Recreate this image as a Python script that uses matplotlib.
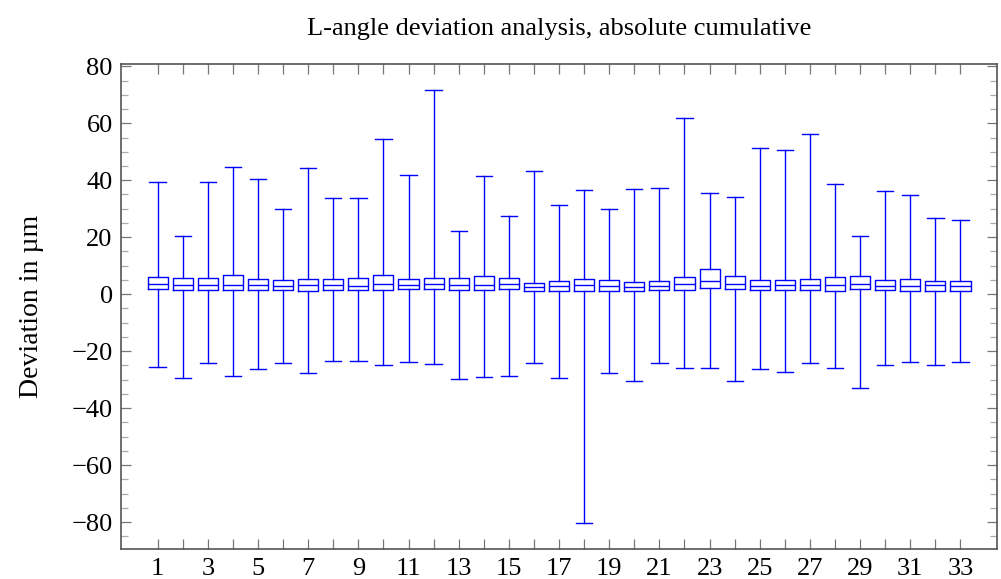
import matplotlib
matplotlib.use("Agg")
import matplotlib.pyplot as plt
from matplotlib.ticker import MultipleLocator

# one box per measurement position
positions = list(range(1, 34))
whisker_hi = [39.5, 20.6, 39.5, 44.6, 40.3, 30.0, 44.4, 33.8, 33.8, 54.4, 42.0,
              71.6, 22.3, 41.6, 27.6, 43.3, 31.2, 36.6, 30.0, 36.9, 37.2, 61.9,
              35.4, 34.0, 51.2, 50.6, 56.2, 38.8, 20.3, 36.4, 34.7, 26.7, 26.2]
whisker_lo = [-25.4, -29.3, -24.1, -28.8, -26.4, -24.1, -27.7, -23.5, -23.6, -24.8, -23.8,
              -24.6, -29.8, -29.0, -28.7, -24.2, -29.5, -80.3, -27.7, -30.4, -24.1, -25.9,
              -25.9, -30.6, -26.2, -27.3, -24.1, -25.9, -32.8, -24.7, -23.9, -24.7, -23.9]
upper_q = [6.2, 5.8, 5.7, 6.8, 5.3, 5.0, 5.5, 5.3, 5.8, 6.7, 5.3,
           5.8, 5.8, 6.3, 5.7, 4.1, 4.8, 5.5, 5.1, 4.4, 4.5, 6.1,
           9.0, 6.5, 5.1, 4.9, 5.4, 6.1, 6.4, 5.1, 5.4, 4.8, 4.8]
medians = [3.5, 3.3, 3.2, 3.2, 3.2, 2.9, 3.1, 3.2, 2.9, 3.5, 3.4,
           3.5, 3.3, 3.4, 3.5, 2.4, 2.9, 3.3, 2.8, 2.6, 2.9, 3.5,
           4.8, 3.6, 2.9, 3.2, 3.2, 3.2, 3.5, 2.9, 2.8, 3.2, 2.9]
lower_q = [1.9, 1.4, 1.4, 1.4, 1.6, 1.5, 1.3, 1.5, 1.4, 1.6, 1.7,
           1.7, 1.5, 1.6, 1.7, 1.0, 1.0, 1.3, 1.2, 1.2, 1.4, 1.4,
           2.3, 1.9, 1.4, 1.5, 1.5, 1.3, 1.7, 1.4, 1.2, 1.3, 1.0]

stats = []
for i in range(len(positions)):
    stats.append({
        "whislo": whisker_lo[i], "q1": lower_q[i], "med": medians[i],
        "q3": upper_q[i], "whishi": whisker_hi[i], "fliers": [],
    })

plt.rcParams['font.family'] = ['Liberation Serif', 'DejaVu Serif']
plt.rcParams['axes.unicode_minus'] = True

fig = plt.figure(figsize=(10.01, 5.79), dpi=100)
ax = fig.add_axes([0.1209, 0.0513, 0.8752, 0.8382])

blue = '#0000ff'
lw = 1.0
ax.bxp(stats, positions=positions, widths=0.8, capwidths=0.65, showfliers=False,
       boxprops=dict(color=blue, linewidth=lw),
       whiskerprops=dict(color=blue, linewidth=lw),
       capprops=dict(color=blue, linewidth=lw),
       medianprops=dict(color=blue, linewidth=lw))

ax.set_xlim(-0.46, 34.46)
ax.set_ylim(-89.5, 80.8)
ax.set_xticks(positions)
ax.set_xticklabels([str(p) if p % 2 == 1 else '' for p in positions])
ax.yaxis.set_major_locator(MultipleLocator(20))
ax.yaxis.set_minor_locator(MultipleLocator(5))

for s in ax.spines.values():
    s.set_color('#555555')
    s.set_linewidth(1.2)
ax.tick_params(which='major', direction='in', length=7, width=0.9, color='#777777',
               top=True, right=True, labelsize=19, pad=6)
ax.tick_params(which='minor', direction='in', length=5, width=0.9, color='#aaaaaa',
               top=True, right=True)

ax.set_ylabel('Deviation in µm', fontsize=20, labelpad=20)
ax.set_title('L-angle deviation analysis, absolute cumulative', fontsize=19, pad=21)

fig.savefig('out.png', dpi=100)
